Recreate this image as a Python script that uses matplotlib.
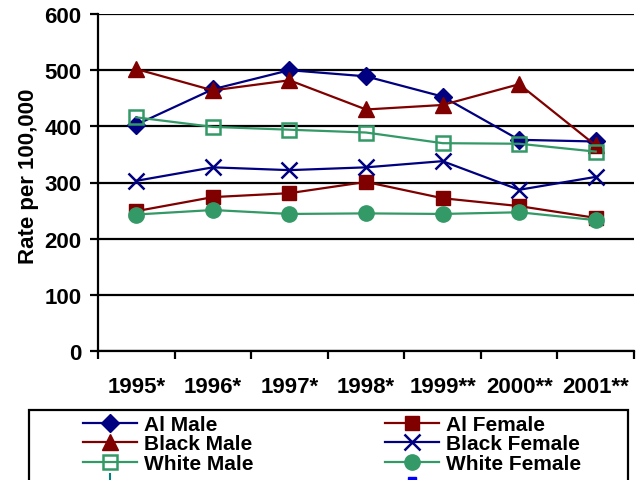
import matplotlib.pyplot as plt
from matplotlib.lines import Line2D
from matplotlib.patches import Rectangle

plt.rcParams['font.family'] = ['Liberation Sans', 'DejaVu Sans']
plt.rcParams['font.weight'] = 'bold'

years = ["1995*", "1996*", "1997*", "1998*", "1999**", "2000**", "2001**"]

ai_male = [403, 466, 500, 489, 453, 376, 373]
ai_female = [249, 274, 281, 301, 272, 258, 237]
black_male = [502, 464, 482, 430, 438, 475, 366]
black_female = [303, 327, 322, 327, 338, 287, 310]
white_male = [416, 399, 394, 389, 370, 369, 355]
white_female = [243, 251, 244, 245, 244, 247, 233]

NAVY = "#000080"
MAROON = "#800000"
GREEN = "#339966"

fig = plt.figure(figsize=(6.36, 4.81), dpi=100)
ax = fig.add_axes([98 / 636, 1 - 352 / 481, 536 / 636, 337 / 481])

x = range(len(years))
lw = 1.6
l1, = ax.plot(x, ai_male, color=NAVY, lw=lw, marker="D", ms=9, label="Al Male")
l2, = ax.plot(x, ai_female, color=MAROON, lw=lw, marker="s", ms=10, label="Al Female")
l3, = ax.plot(x, black_male, color=MAROON, lw=lw, marker="^", ms=11, label="Black Male")
l4, = ax.plot(x, black_female, color=NAVY, lw=lw, marker="x", ms=11, mew=1.8,
              label="Black Female")
l5, = ax.plot(x, white_male, color=GREEN, lw=lw, marker="s", ms=10, mfc="none", mew=1.8,
              label="White Male")
l6, = ax.plot(x, white_female, color=GREEN, lw=lw, marker="o", ms=11, label="White Female")

ax.set_xlim(-0.5, len(years) - 0.5)
ax.set_ylim(0, 600)
ax.set_yticks(range(0, 601, 100))
ax.grid(axis="y", color="black", lw=1.6)
ax.set_axisbelow(True)

# tick marks sit between the categories, labels in the middle
ax.set_xticks([i - 0.5 for i in range(len(years) + 1)])
ax.set_xticklabels([])
ax.set_xticks(list(x), minor=True)
ax.set_xticklabels(years, minor=True)
ax.tick_params(axis="x", which="minor", length=0, pad=18, labelsize=16)
ax.tick_params(axis="x", which="major", length=6, width=1.6, direction="out")
ax.tick_params(axis="y", length=6, width=1.6, direction="out", labelsize=16, pad=6)

for s in ["top", "right"]:
    ax.spines[s].set_visible(False)
for s in ["left", "bottom"]:
    ax.spines[s].set_linewidth(1.6)

ax.set_ylabel("Rate per 100,000", fontsize=16, fontweight="bold", labelpad=4)
ax.yaxis.label.set_y(0.522)

# legend (the box runs off the bottom of the picture)
extra1 = Line2D([], [], color="#008080", lw=0, marker="|", ms=11, mew=1.5, label=" ")
extra2 = Line2D([], [], color="#0000FF", lw=0, marker="s", ms=6, label=" ")
handles = [l1, l3, l5, extra1, l2, l4, l6, extra2]
fig.legend(handles=handles, labels=[h.get_label() for h in handles], ncol=2,
           loc="upper left", bbox_to_anchor=(83 / 636, 1 - 416 / 481),
           frameon=False, borderpad=0, borderaxespad=0, fontsize=15,
           handlelength=2.6, handletextpad=0.33, labelspacing=0.02, columnspacing=6.3)
fig.patches.append(Rectangle((29 / 636, -0.2), 599 / 636, 0.2 + 1 - 411 / 481,
                             transform=fig.transFigure, fill=False,
                             edgecolor="black", lw=1.6, zorder=0))

fig.savefig("out.png")
